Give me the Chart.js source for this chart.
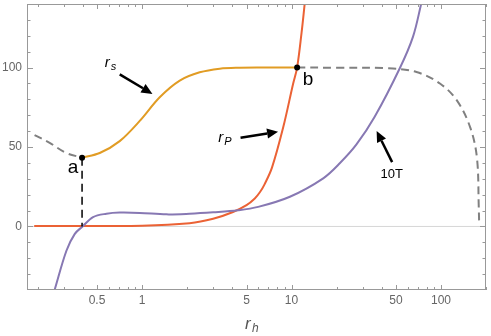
<!DOCTYPE html>
<html>
<head>
<meta charset="utf-8">
<script src="https://cdn.jsdelivr.net/npm/chart.js@4"></script>
<style>
  html, body { margin: 0; padding: 0; background: #fff; }
  #wrap { width: 491px; height: 336px; }
</style>
</head>
<body>
<div id="wrap"><canvas id="chart"></canvas></div>
<script>
// tick values
const xTicks = [0.5, 1, 5, 10, 50, 100];
const xMinor = [0.2, 0.3, 0.4, 0.6, 0.7, 0.8, 0.9, 2, 3, 4, 6, 7, 8, 9, 20, 30, 40, 60, 70, 80, 90, 200];
const yTicks = [0, 50, 100];
const yMinor = [-30, -20, -10, 10, 20, 30, 40, 60, 70, 80, 90, 110, 120, 130];

// r_s, unstable branch left of a (dashed)
const rsLeftX = [0.191, 0.241, 0.312, 0.397];
const rsLeftY = [57.5, 52.6, 46.2, 43.3];
// r_s, solid part between a and b
const rsX = [0.397, 0.521, 0.709, 0.965, 1.313, 1.787, 2.43, 3.31, 4.5, 6.5, 10.9];
const rsY = [43.3, 46.2, 53.7, 66.4, 81.3, 91.8, 97.0, 99.3, 99.9, 100, 100];
// r_s, dashed part right of b
const rsRightX = [10.9, 20, 43.3, 68.5, 98.9, 128, 157, 174, 179, 180];
const rsRightY = [100, 99.9, 99.6, 97.2, 89.8, 79.2, 62.2, 43.1, 11.2, 1.7];
// r_P
const rpX = [0.19, 1, 2.08, 2.99, 4.06, 5.0, 5.68, 6.14, 6.6, 7.4, 8.79, 10.25, 10.9, 11.67, 12.27];
const rpY = [0.3, 0.5, 2.0, 4.8, 9.1, 13.4, 17.6, 21.5, 26.5, 37, 62.2, 89.8, 100, 121.8, 140.8];
// 10T
const tX = [0.26, 0.312, 0.355, 0.40, 0.47, 0.578, 0.71, 0.965, 1.456, 2.08, 2.99, 4.39, 5.98, 9.75, 16.3, 21.1, 27.2, 36, 52.9, 65, 74];
const tY = [-40, -15.3, -4.7, 0, 5.9, 8.0, 8.7, 8.5, 7.6, 8.0, 8.9, 10.2, 12.3, 18.7, 30.3, 39.9, 51.6, 69, 99.4, 119.5, 140.8];

// marked points and annotations (data coordinates)
const pointA = { x: 0.397, y: 43.3 };
const pointB = { x: 10.9, y: 100 };
const arrows = [
  { from: [0.709, 95.7], to: [1.174, 83.4] },
  { from: [4.56, 55.8], to: [8.13, 59.6] },
  { from: [47.1, 40.5], to: [37.1, 60.1] }
];

const zip = (xs, ys) => xs.map((x, i) => ({ x, y: ys[i] }));

function line(label, xs, ys, color, dash) {
  return {
    label,
    data: zip(xs, ys),
    borderColor: color,
    borderWidth: 2,
    borderDash: dash || [],
    pointRadius: 0,
    fill: false,
    tension: 0.35
  };
}

const framePlugin = {
  id: "frame",
  beforeDatasetsDraw(chart) {
    const { ctx, chartArea: a, scales } = chart;
    const y0 = scales.y.getPixelForValue(0);
    ctx.save();
    ctx.strokeStyle = "#d6d6d6";
    ctx.lineWidth = 1;
    ctx.beginPath();
    ctx.moveTo(a.left, y0);
    ctx.lineTo(a.right, y0);
    ctx.stroke();
    ctx.restore();
  },
  afterDatasetsDraw(chart) {
    const { ctx, chartArea: a, scales } = chart;
    const xs = scales.x, ys = scales.y;
    ctx.save();

    // vertical dashed line under a
    const ax = xs.getPixelForValue(pointA.x);
    ctx.strokeStyle = "#000";
    ctx.lineWidth = 1.5;
    ctx.setLineDash([8, 5]);
    ctx.beginPath();
    ctx.moveTo(ax, ys.getPixelForValue(pointA.y));
    ctx.lineTo(ax, ys.getPixelForValue(0));
    ctx.stroke();
    ctx.setLineDash([]);

    // points a and b
    ctx.fillStyle = "#000";
    [pointA, pointB].forEach((p) => {
      ctx.beginPath();
      ctx.arc(xs.getPixelForValue(p.x), ys.getPixelForValue(p.y), 3, 0, Math.PI * 2);
      ctx.fill();
    });
    ctx.font = "19px 'Liberation Sans', Arial, sans-serif";
    ctx.textAlign = "center";
    ctx.textBaseline = "middle";
    ctx.fillText("a", ax - 9, ys.getPixelForValue(pointA.y) + 10);
    ctx.fillText("b", xs.getPixelForValue(pointB.x) + 11, ys.getPixelForValue(pointB.y) + 12);

    // arrows
    arrows.forEach((ar) => {
      const x1 = xs.getPixelForValue(ar.from[0]), y1 = ys.getPixelForValue(ar.from[1]);
      const x2 = xs.getPixelForValue(ar.to[0]), y2 = ys.getPixelForValue(ar.to[1]);
      const ang = Math.atan2(y2 - y1, x2 - x1);
      const hl = 11, hw = 5;
      const bx = x2 - hl * Math.cos(ang), by = y2 - hl * Math.sin(ang);
      ctx.lineWidth = 2.5;
      ctx.beginPath();
      ctx.moveTo(x1, y1);
      ctx.lineTo(bx, by);
      ctx.stroke();
      ctx.beginPath();
      ctx.moveTo(x2, y2);
      ctx.lineTo(bx + hw * Math.sin(ang), by - hw * Math.cos(ang));
      ctx.lineTo(bx - hw * Math.sin(ang), by + hw * Math.cos(ang));
      ctx.closePath();
      ctx.fill();
    });

    // curve labels
    ctx.textAlign = "left";
    ctx.font = "italic 15px 'Liberation Sans', Arial, sans-serif";
    const rsx = xs.getPixelForValue(0.6), rsy = ys.getPixelForValue(103);
    ctx.fillText("r", rsx - 4, rsy);
    ctx.font = "italic 11px 'Liberation Sans', Arial, sans-serif";
    ctx.fillText("s", rsx + 2, rsy + 4);
    ctx.font = "italic 15px 'Liberation Sans', Arial, sans-serif";
    const rpx = xs.getPixelForValue(3.5), rpy = ys.getPixelForValue(56);
    ctx.fillText("r", rpx - 5, rpy);
    ctx.font = "italic 11px 'Liberation Sans', Arial, sans-serif";
    ctx.fillText("P", rpx + 1, rpy + 4);
    ctx.font = "13px 'Liberation Sans', Arial, sans-serif";
    ctx.textAlign = "center";
    ctx.fillText("10T", xs.getPixelForValue(46.8), ys.getPixelForValue(32.5));

    // frame with inward ticks
    ctx.strokeStyle = "#999";
    ctx.lineWidth = 1;
    ctx.strokeRect(a.left + 0.5, a.top + 0.5, a.right - a.left - 1, a.bottom - a.top - 1);
    const tickX = (vals, len) => vals.forEach((v) => {
      const px = Math.round(xs.getPixelForValue(v)) + 0.5;
      ctx.beginPath();
      ctx.moveTo(px, a.bottom); ctx.lineTo(px, a.bottom - len);
      ctx.moveTo(px, a.top); ctx.lineTo(px, a.top + len);
      ctx.stroke();
    });
    const tickY = (vals, len) => vals.forEach((v) => {
      const py = Math.round(ys.getPixelForValue(v)) + 0.5;
      ctx.beginPath();
      ctx.moveTo(a.left, py); ctx.lineTo(a.left + len, py);
      ctx.moveTo(a.right, py); ctx.lineTo(a.right - len, py);
      ctx.stroke();
    });
    tickX(xTicks, 5); tickX(xMinor, 3);
    tickY(yTicks, 6); tickY(yMinor, 3.5);

    // axis label r_h
    ctx.fillStyle = "#555";
    ctx.textAlign = "left";
    ctx.font = "italic 17px 'Liberation Sans', Arial, sans-serif";
    ctx.fillText("r", 245, 324);
    ctx.font = "italic 12px 'Liberation Sans', Arial, sans-serif";
    ctx.fillText("h", 252, 329);
    ctx.restore();
  }
};

new Chart(document.getElementById("chart"), {
  type: "line",
  data: {
    datasets: [
      line("rs left", rsLeftX, rsLeftY, "#808080", [8, 5]),
      line("rs right", rsRightX, rsRightY, "#808080", [8, 5]),
      line("10T", tX, tY, "#8778B3"),
      line("rP", rpX, rpY, "#EB6235"),
      line("rs", rsX, rsY, "#E19C24")
    ]
  },
  options: {
    responsive: true,
    maintainAspectRatio: false,
    animation: false,
    layout: { padding: { top: 4, right: 5, left: 0, bottom: 0 } },
    plugins: { legend: { display: false }, tooltip: { enabled: false } },
    scales: {
      x: {
        type: "logarithmic",
        min: 0.17,
        max: 200,
        afterBuildTicks: (s) => { s.ticks = xTicks.map((v) => ({ value: v })); },
        afterFit: (s) => { s.height = 46; s.paddingLeft = 0; s.paddingRight = 0; },
        grid: { display: false, drawTicks: false },
        border: { display: false },
        ticks: {
          autoSkip: false,
          maxRotation: 0,
          padding: 3,
          color: "#666",
          font: { size: 12, family: "'Liberation Sans', Arial, sans-serif" },
          callback: (v) => String(v)
        }
      },
      y: {
        min: -40,
        max: 140,
        afterBuildTicks: (s) => { s.ticks = yTicks.map((v) => ({ value: v })); },
        afterFit: (s) => { s.width = 27; s.paddingTop = 0; s.paddingBottom = 0; },
        grid: { display: false, drawTicks: false },
        border: { display: false },
        ticks: {
          padding: 5,
          color: "#666",
          font: { size: 12, family: "'Liberation Sans', Arial, sans-serif" }
        }
      }
    }
  },
  plugins: [framePlugin]
});
</script>
</body>
</html>
